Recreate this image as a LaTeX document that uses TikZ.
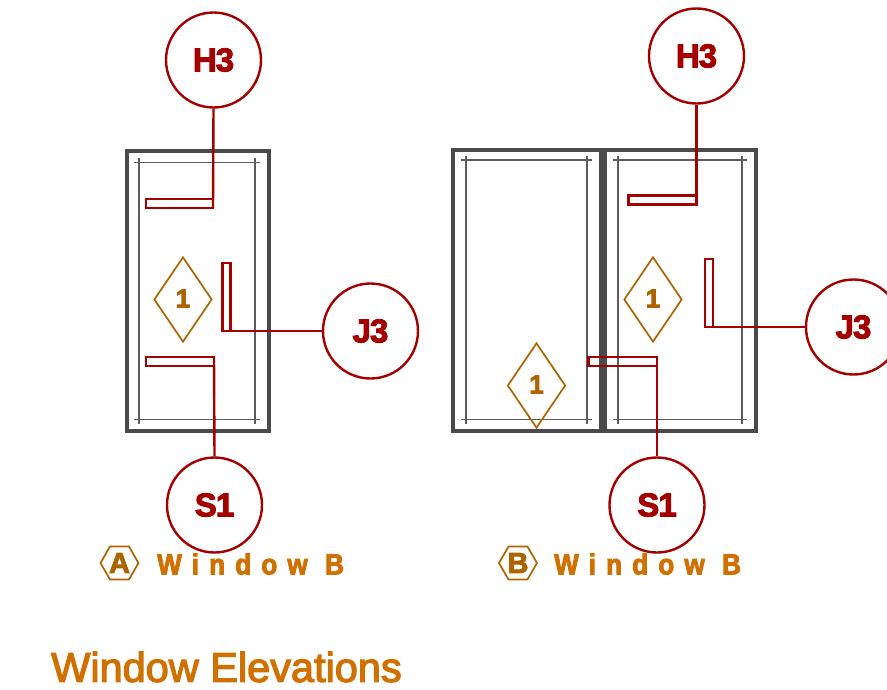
\documentclass[tikz,border=0pt]{standalone}
\usepackage{fontspec}
\setmainfont{Liberation Sans}
\newfontfamily\tagfont[LetterSpace=-3,FakeBold=3]{Liberation Sans Bold}
\newfontfamily\spacedfont[LetterSpace=35,FakeBold=3,FakeStretch=0.9]{Liberation Sans Bold}
\newfontfamily\titlefont[LetterSpace=0,FakeBold=3]{Liberation Sans}
\usetikzlibrary{shapes.geometric}
\definecolor{tagred}{HTML}{A50000}
\definecolor{brownish}{HTML}{AD6400}
\definecolor{titleorange}{HTML}{D07000}
\definecolor{framegrey}{HTML}{4A4A4A}
\tikzset{
  x=1pt,y=-1pt,
  bubble/.style={circle,draw=tagred,line width=2.4pt,fill=white,minimum size=95pt,inner sep=0pt,text=tagred,font=\fontsize{33}{33}\tagfont},
  tagbox/.style={rectangle,draw=tagred,line width=2.4pt,inner sep=0pt,outer sep=0pt},
  leader/.style={draw=tagred,line width=2.4pt},
  typemark/.style={diamond,draw=brownish,line width=1.7pt,minimum width=58pt,minimum height=85pt,aspect=0.68,inner sep=0pt,text=brownish,font=\fontsize{26}{26}\tagfont},
  hexmark/.style={regular polygon,regular polygon sides=6,draw=brownish,line width=1.7pt,minimum size=38pt,inner sep=0pt,text=brownish,font=\fontsize{29}{29}\tagfont},
  caption/.style={text=titleorange,font=\fontsize{29}{29}\spacedfont,anchor=west,inner sep=0pt},
  outer/.style={draw=framegrey,line width=4pt},
  inner/.style={draw=framegrey!90,line width=1.9pt},
}
\begin{document}
\begin{tikzpicture}
\useasboundingbox (0,0) rectangle (887,689);
% --- Elevation A
\draw[outer] (126.5,151) rectangle (269,431);
\draw[inner] (134,162.5) -- (260,162.5);
\draw[inner] (134,419.5) -- (260,419.5);
\draw[inner] (139,158) -- (139,424);
\draw[inner] (255,158) -- (255,424);
% --- Elevation B
\draw[outer] (452.5,149.5) rectangle (601,431);
\draw[outer] (604.5,149.5) rectangle (755.5,431);
\draw[inner] (461,160) -- (592,160);
\draw[inner] (461,419.5) -- (592,419.5);
\draw[inner] (466,156) -- (466,424);
\draw[inner] (587,156) -- (587,424);
\draw[inner] (613,160) -- (747,160);
\draw[inner] (613,419.5) -- (747,419.5);
\draw[inner] (618,156) -- (618,424);
\draw[inner] (742,156) -- (742,424);
% --- Tag boxes
\node[tagbox,minimum width=67pt,minimum height=8.5pt] (ah) at (179.5,203.5) {};
\node[tagbox,minimum width=68pt,minimum height=9pt] (as) at (180,361.5) {};
\node[tagbox,minimum width=8pt,minimum height=68pt] (aj) at (226.5,297) {};
\node[tagbox,minimum width=68pt,minimum height=9pt] (bh) at (662.5,200) {};
\node[tagbox,minimum width=8pt,minimum height=68pt] (bj) at (709,293) {};
\node[tagbox,minimum width=68.5pt,minimum height=9pt] (bs) at (622.75,361.5) {};
% --- Bubbles
\node[bubble] (ah3) at (213.5,60) {H3};
\node[bubble] (aj3) at (370.5,331) {J3};
\node[bubble] (as1) at (214.5,505) {S1};
\node[bubble] (bh3) at (696.5,56) {H3};
\node[bubble] (bj3) at (853.5,327) {J3};
\node[bubble] (bs1) at (657,505) {S1};
% --- Leaders
\draw[leader] (ah3.south) -- (ah.south east);
\draw[leader] (as1.north) -- (as.north east);
\draw[leader] (aj3.west) -- (aj.south west);
\draw[leader] (bh3.south) -- (bh.south east);
\draw[leader] (bj3.west) -- (bj.south west);
\draw[leader] (bs1.north) -- (bs.north east);
% --- Type marks
\node[typemark] (ta) at (183,299.5) {\raisebox{2pt}{1}};
\node[typemark] (tb) at (653,299.5) {\raisebox{2pt}{1}};
\node[typemark] (tc) at (536.5,385.5) {\raisebox{2pt}{1}};
% --- Captions
\node[hexmark] (ha) at (119.5,563) {A};
\node[hexmark] (hb) at (518,563) {B};
\node[caption] (ca) at (157,564) {Window B};
\node[caption] (cb) at (554,564) {Window B};
% --- Title
\node[text=titleorange,font=\fontsize{41.5}{41.5}\titlefont,anchor=west,inner sep=0pt] (title) at (51,667) {Window Elevations};
\end{tikzpicture}
\end{document}
